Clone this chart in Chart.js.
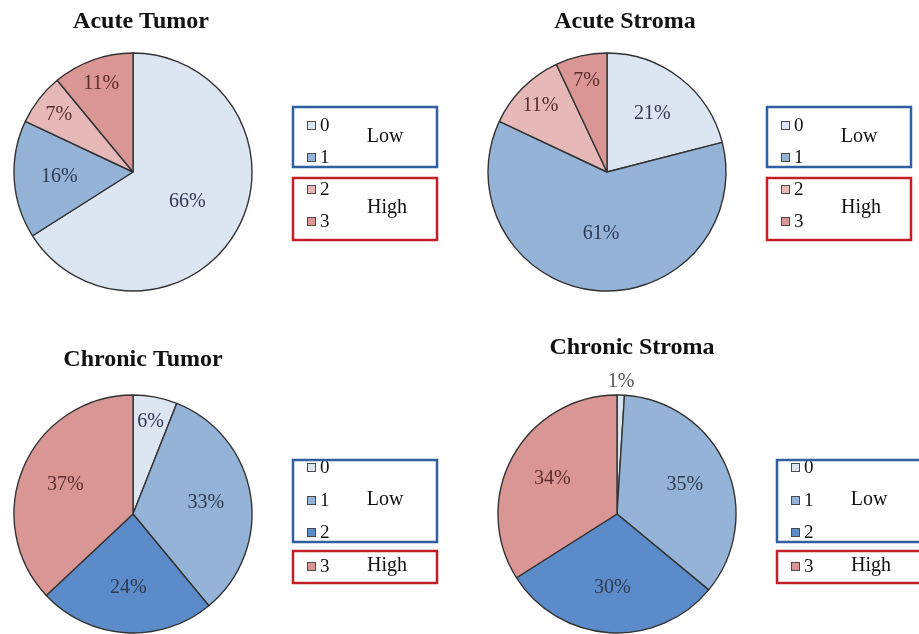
<!DOCTYPE html>
<html>
<head>
<meta charset="utf-8">
<script src="https://cdn.jsdelivr.net/npm/chart.js@4.4.1/dist/chart.umd.min.js"></script>
<style>
    html, body { margin: 0; padding: 0; background: #fff; }
    #wrap { position: relative; width: 919px; height: 634px; overflow: hidden; }
    .q { position: absolute; width: 460px; height: 317px; }
</style>
</head>
<body>
<div id="wrap">
    <div class="q" style="left:0;top:0"><canvas id="c0" width="460" height="317"></canvas></div>
    <div class="q" style="left:459px;top:0"><canvas id="c1" width="460" height="317"></canvas></div>
    <div class="q" style="left:0;top:317px"><canvas id="c2" width="460" height="317"></canvas></div>
    <div class="q" style="left:459px;top:317px"><canvas id="c3" width="460" height="317"></canvas></div>
</div>
<script>
// data (percent of cases per score)
const categories = ['0', '1', '2', '3'];
const titles = ['Acute Tumor', 'Acute Stroma', 'Chronic Tumor', 'Chronic Stroma'];
const acuteTumor = [66, 16, 7, 11];
const acuteStroma = [21, 61, 11, 7];
const chronicTumor = [6, 33, 24, 37];
const chronicStroma = [1, 35, 30, 34];
const groupNames = ['Low', 'High'];

// colours
const acuteColors = ['#dce6f2', '#95b3d7', '#e6b9b8', '#d99694'];
const chronicColors = ['#dce6f2', '#95b3d7', '#5b8bc9', '#d99694'];
const blueText = '#2e3a52';
const redText = '#5c2c2c';
const serif = "'Liberation Serif', 'Times New Roman', serif";

// page layout of each panel (absolute page pixels)
const acuteBoxes = { low: [107, 167], high: [178, 240], items: [125, 157, 189, 221], lowY: 137, highY: 208 };
const chronicBoxes = { low: [460, 542], high: [551, 583], items: [467, 500, 532, 566], lowY: 500, highY: 566 };
const panels = [
    { id: 'c0', ox: 0, oy: 0, cx: 133, cy: 172, title: [141, 28], bx: 293, boxes: acuteBoxes,
      values: acuteTumor, colors: acuteColors },
    { id: 'c1', ox: 459, oy: 0, cx: 607, cy: 172, title: [625, 28], bx: 767, boxes: acuteBoxes,
      values: acuteStroma, colors: acuteColors },
    { id: 'c2', ox: 0, oy: 317, cx: 133, cy: 515, title: [143, 366], bx: 293, boxes: chronicBoxes,
      values: chronicTumor, colors: chronicColors },
    { id: 'c3', ox: 459, oy: 317, cx: 617, cy: 515, title: [632, 354], bx: 777, boxes: chronicBoxes,
      values: chronicStroma, colors: chronicColors }
];
const R = 119;

function textColorFor(color) {
    // reddish slices get a dark red label, the rest dark slate
    return (color === '#e6b9b8' || color === '#d99694') ? redText : blueText;
}

// draws title, percentage labels and the boxed Low/High legend
const decorPlugin = {
    id: 'decor',
    afterDatasetsDraw(chart, args, p) {
        const ctx = chart.ctx;
        const ds = chart.data.datasets[0];
        const meta = chart.getDatasetMeta(0);
        ctx.save();

        // percentage labels
        ctx.font = '20px ' + serif;
        ctx.textAlign = 'center';
        ctx.textBaseline = 'middle';
        meta.data.forEach((arc, i) => {
            const v = ds.data[i];
            const { startAngle, endAngle, x, y, outerRadius } = arc.getProps(['startAngle', 'endAngle', 'x', 'y', 'outerRadius'], true);
            const mid = (startAngle + endAngle) / 2;
            let f = v < 3 ? 1.11 : v < 15 ? 0.79 : v > 50 ? 0.52 : 0.62;
            ctx.fillStyle = v < 3 ? '#555' : textColorFor(ds.backgroundColor[i]);
            ctx.fillText(v + '%', x + Math.cos(mid) * outerRadius * f, y + Math.sin(mid) * outerRadius * f);
        });

        // title
        ctx.font = 'bold 24px ' + serif;
        ctx.fillStyle = '#111';
        ctx.textBaseline = 'alphabetic';
        ctx.fillText(p.title, p.tx, p.ty);

        const b = p.boxes;
        const bx = p.bx;

        // legend items, clipped to the boxes' extent
        ctx.save();
        ctx.beginPath();
        ctx.rect(bx, b.low[0], 144, b.high[1] - b.low[0]);
        ctx.clip();
        ctx.font = '19px ' + serif;
        ctx.textAlign = 'left';
        ctx.textBaseline = 'middle';
        chart.data.labels.forEach((lab, i) => {
            const iy = b.items[i];
            ctx.fillStyle = ds.backgroundColor[i];
            ctx.fillRect(bx + 14, iy - 4, 9, 9);
            ctx.lineWidth = 1;
            ctx.strokeStyle = '#4a4a4a';
            ctx.strokeRect(bx + 14.5, iy - 3.5, 8, 8);
            ctx.fillStyle = '#111';
            ctx.fillText(lab, bx + 27, iy + 1);
        });
        ctx.restore();

        // legend boxes
        ctx.lineWidth = 2.5;
        ctx.strokeStyle = '#2f5f9f';
        ctx.strokeRect(bx, b.low[0], 144, b.low[1] - b.low[0]);
        ctx.strokeStyle = '#c41e26';
        ctx.strokeRect(bx, b.high[0], 144, b.high[1] - b.high[0]);

        ctx.font = '20px ' + serif;
        ctx.textAlign = 'center';
        ctx.fillStyle = '#111';
        ctx.textBaseline = 'middle';
        ctx.fillText(groupNames[0], bx + 92, b.lowY);
        ctx.fillText(groupNames[1], bx + 94, b.highY);
        ctx.restore();
    }
};

panels.forEach((pn, k) => {
    const W = 460, H = 317;
    const cx = pn.cx - pn.ox, cy = pn.cy - pn.oy;
    const m = 2;
    const ctx = document.getElementById(pn.id).getContext('2d');
    new Chart(ctx, {
        type: 'pie',
        data: {
            labels: categories,
            datasets: [{
                data: pn.values,
                backgroundColor: pn.colors,
                borderColor: '#333',
                borderWidth: 1.4
            }]
        },
        options: {
            responsive: false,
            animation: false,
            radius: R,
            layout: {
                padding: {
                    left: Math.max(cx - R - m, 0),
                    right: Math.max(W - cx - R - m, 0),
                    top: Math.max(cy - R - m, 0),
                    bottom: Math.max(H - cy - R - m, 0)
                }
            },
            plugins: {
                legend: { display: false },
                tooltip: { enabled: false },
                decor: {
                    title: titles[k],
                    tx: pn.title[0] - pn.ox,
                    ty: pn.title[1] - pn.oy,
                    bx: pn.bx - pn.ox,
                    boxes: {
                        low: pn.boxes.low.map(v => v - pn.oy),
                        high: pn.boxes.high.map(v => v - pn.oy),
                        items: pn.boxes.items.map(v => v - pn.oy),
                        lowY: pn.boxes.lowY - pn.oy,
                        highY: pn.boxes.highY - pn.oy
                    }
                }
            }
        },
        plugins: [decorPlugin]
    });
});
</script>
</body>
</html>
